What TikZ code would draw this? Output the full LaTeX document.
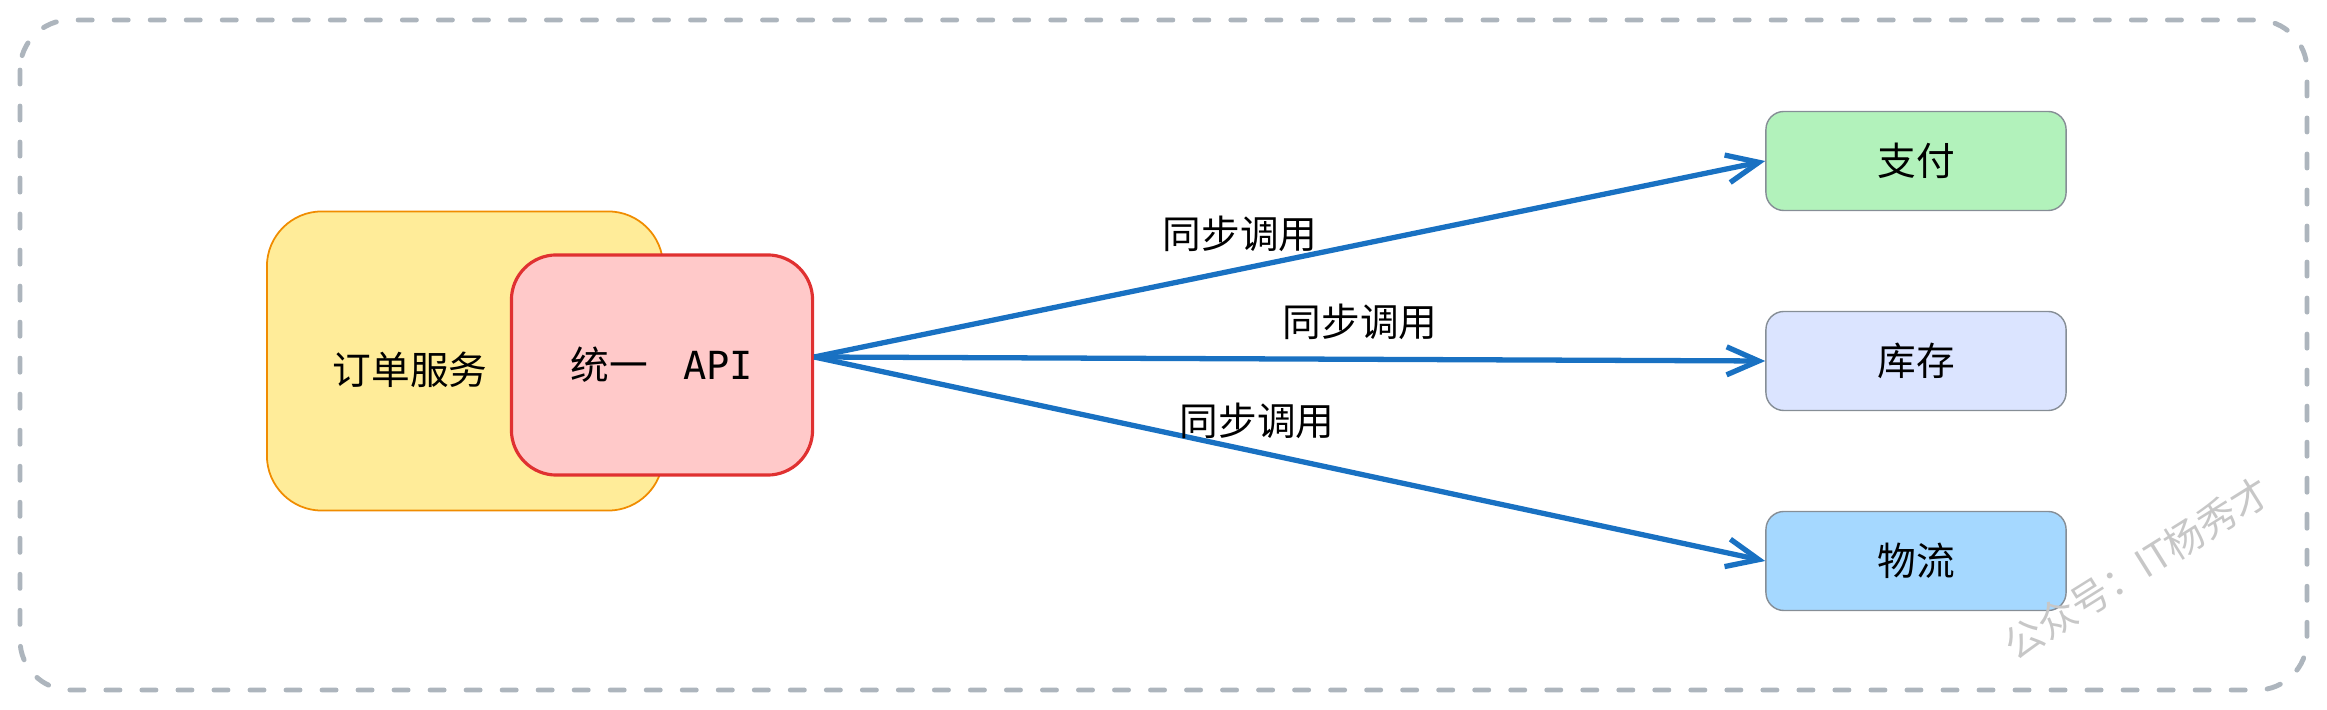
\documentclass[tikz,border=0pt]{standalone}
\usepackage{fontspec}
\setmainfont{Noto Sans CJK SC}
\newfontfamily\apifont{DejaVu Sans Mono}
\usetikzlibrary{arrows.meta}

\definecolor{frame}{HTML}{ADB5BD}
\definecolor{orderfill}{HTML}{FFEC99}
\definecolor{orderdraw}{HTML}{F08C00}
\definecolor{apifill}{HTML}{FFC9C9}
\definecolor{apidraw}{HTML}{E03131}
\definecolor{payfill}{HTML}{B2F2BB}
\definecolor{stockfill}{HTML}{DBE4FF}
\definecolor{shipfill}{HTML}{A5D8FF}
\definecolor{svcdraw}{HTML}{868E96}
\definecolor{callblue}{HTML}{1971C2}

\begin{document}
\begin{tikzpicture}[x=0.01cm, y=-0.01cm,
    font=\fontsize{11}{13}\selectfont,
    svc/.style={draw=svcdraw, line width=0.4pt, rounded corners=0.18cm,
        minimum width=3cm, minimum height=0.99cm},
    call/.style={draw=callblue, line width=1.5pt,
        -{Straight Barb[length=0.32cm, width=0.28cm, line width=1.5pt]}},
    calltext/.style={inner sep=0pt}]
    \useasboundingbox (0,0) rectangle (2327,710);

    % outer frame
    \draw[frame, line width=1.4pt, dash pattern=on 0.14cm off 0.22cm,
        line cap=round, rounded corners=0.5cm] (20,20) rectangle (2307,690);

    % order service with the api in front of it
    \node[draw=orderdraw, fill=orderfill, line width=0.5pt, rounded corners=0.55cm,
        minimum width=3.96cm, minimum height=2.99cm] (order) at (465,361) {};
    \node (ordertext) at (410,370) {订单服务};
    \node[draw=apidraw, fill=apifill, line width=0.9pt, rounded corners=0.45cm,
        minimum width=3.01cm, minimum height=2.2cm] (api) at (662,365)
        {统一\hspace{0.9em}{\apifont API}};

    \node[svc, fill=payfill] (pay) at (1916,161) {支付};
    \node[svc, fill=stockfill] (stock) at (1916,361) {库存};
    \node[svc, fill=shipfill] (ship) at (1916,561) {物流};

    \coordinate (apiout) at ([yshift=0.08cm]api.east);
    \draw[call] (apiout) -- (pay.west);
    \draw[call] (apiout) -- (stock.west);
    \draw[call] (apiout) -- (ship.west);

    \node[calltext] (paylabel) at (1240,234) {同步调用};
    \node[calltext] (stocklabel) at (1360,322) {同步调用};
    \node[calltext] (shiplabel) at (1257,421) {同步调用};

    % watermark
    \node[text=black!22, rotate=32] (mark) at (2137,568) {公众号：IT杨秀才};
\end{tikzpicture}
\end{document}
